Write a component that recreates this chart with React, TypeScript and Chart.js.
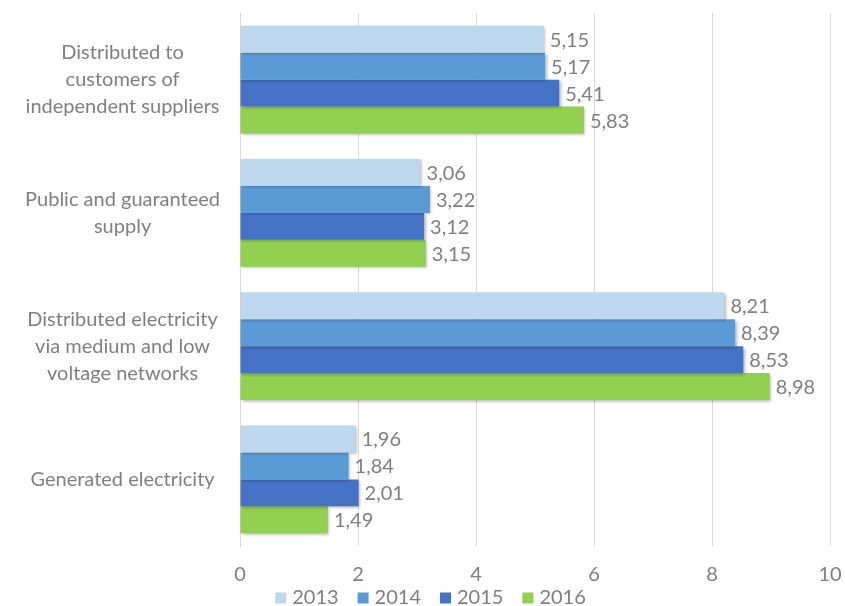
import React, { useEffect, useRef } from "react";
import { Chart, registerables } from "chart.js";

Chart.register(...registerables);

const categories: string[][] = [
  ["Distributed to", "customers of", "independent suppliers"],
  ["Public and guaranteed", "supply"],
  ["Distributed electricity", "via medium and low", "voltage networks"],
  ["Generated electricity"],
];
const seriesNames = ["2013", "2014", "2015", "2016"];
const values2013 = [5.15, 3.06, 8.21, 1.96];
const values2014 = [5.17, 3.22, 8.39, 1.84];
const values2015 = [5.41, 3.12, 8.53, 2.01];
const values2016 = [5.83, 3.15, 8.98, 1.49];
const seriesColors = ["#BDD7EE", "#5B9BD5", "#4472C4", "#92D050"];
const xTicks = [0, 2, 4, 6, 8, 10];

const FONT = "Lato, 'Open Sans', sans-serif";
const GRAY = "#7f7f7f";
const FS = 20;

export default function App() {
  const ref = useRef<HTMLCanvasElement | null>(null);

  useEffect(() => {
    if (!ref.current) return;
    const allValues = [values2013, values2014, values2015, values2016];

    const shadowPlugin = {
      id: "barShadow",
      beforeDatasetsDraw(chart: any) {
        const ctx = chart.ctx;
        ctx.save();
        ctx.shadowColor = "rgba(0,0,0,0.3)";
        ctx.shadowBlur = 3;
        ctx.shadowOffsetX = 1.5;
        ctx.shadowOffsetY = 1.5;
      },
      afterDatasetsDraw(chart: any) {
        const ctx = chart.ctx;
        ctx.restore();
        ctx.save();
        ctx.font = `${FS}px ${FONT}`;
        ctx.fillStyle = GRAY;
        ctx.textAlign = "left";
        ctx.textBaseline = "middle";
        chart.data.datasets.forEach((ds: any, i: number) => {
          const meta = chart.getDatasetMeta(i);
          meta.data.forEach((bar: any, j: number) => {
            const v = ds.data[j] as number;
            const txt = v.toFixed(2).replace(".", ",");
            ctx.fillText(txt, bar.x + 6, bar.y + 1);
          });
        });
        ctx.restore();
      },
    };

    const legendPlugin = {
      id: "customLegend",
      afterDraw(chart: any) {
        const ctx = chart.ctx;
        ctx.save();
        ctx.font = `${FS}px ${FONT}`;
        ctx.textBaseline = "middle";
        ctx.textAlign = "left";
        const box = 11;
        const gapBoxText = 6;
        const gapItems = 19;
        const items = chart.data.datasets.map((ds: any) => ({
          label: ds.label,
          color: ds.backgroundColor,
          w: ctx.measureText(ds.label).width,
        }));
        const total =
          items.reduce((s: number, it: any) => s + box + gapBoxText + it.w, 0) +
          gapItems * (items.length - 1);
        let x = chart.width / 2 + 8 - total / 2;
        const y = 598;
        items.forEach((it: any) => {
          ctx.fillStyle = it.color;
          ctx.fillRect(x, y - box / 2, box, box);
          ctx.fillStyle = GRAY;
          ctx.fillText(it.label, x + box + gapBoxText, y);
          x += box + gapBoxText + it.w + gapItems;
        });
        ctx.restore();
      },
    };

    const chart = new Chart(ref.current, {
      type: "bar",
      data: {
        labels: categories,
        datasets: seriesNames.map((name, i) => ({
          label: name,
          data: allValues[i],
          backgroundColor: seriesColors[i],
          borderWidth: 0,
          categoryPercentage: 0.81,
          barPercentage: 1,
        })),
      },
      options: {
        indexAxis: "y",
        animation: false,
        responsive: false,
        maintainAspectRatio: false,
        layout: { padding: { left: 0, right: 15, top: 13, bottom: 2 } },
        scales: {
          x: {
            min: 0,
            max: 10,
            afterBuildTicks(scale: any) {
              scale.ticks = xTicks.map((v) => ({ value: v }));
            },
            afterFit(scale: any) {
              scale.paddingLeft = 0;
              scale.paddingRight = 0;
            },
            grid: { color: "#d9d9d9", drawTicks: false, lineWidth: 1 },
            border: { display: false },
            ticks: {
              color: GRAY,
              font: { family: FONT, size: FS, lineHeight: 1.2 },
              padding: 17,
            },
          },
          y: {
            grid: { display: false, drawTicks: false },
            border: { display: true, color: "#d9d9d9" },
            afterFit(scale: any) {
              scale.width = 240;
              scale.paddingTop = 0;
              scale.paddingBottom = 0;
            },
            ticks: {
              color: GRAY,
              crossAlign: "center",
              padding: 20,
              font: { family: FONT, size: FS, lineHeight: 1.35 },
            },
          },
        },
        plugins: {
          legend: { display: false },
          tooltip: { enabled: false },
        },
      },
      plugins: [shadowPlugin, legendPlugin],
    } as any);

    return () => chart.destroy();
  }, []);

  return (
    <div style={{ position: "absolute", left: 0, top: 0, width: 845, height: 606, background: "#fff" }}>
      <canvas ref={ref} width={845} height={606} style={{ width: 845, height: 606 }} />
    </div>
  );
}
